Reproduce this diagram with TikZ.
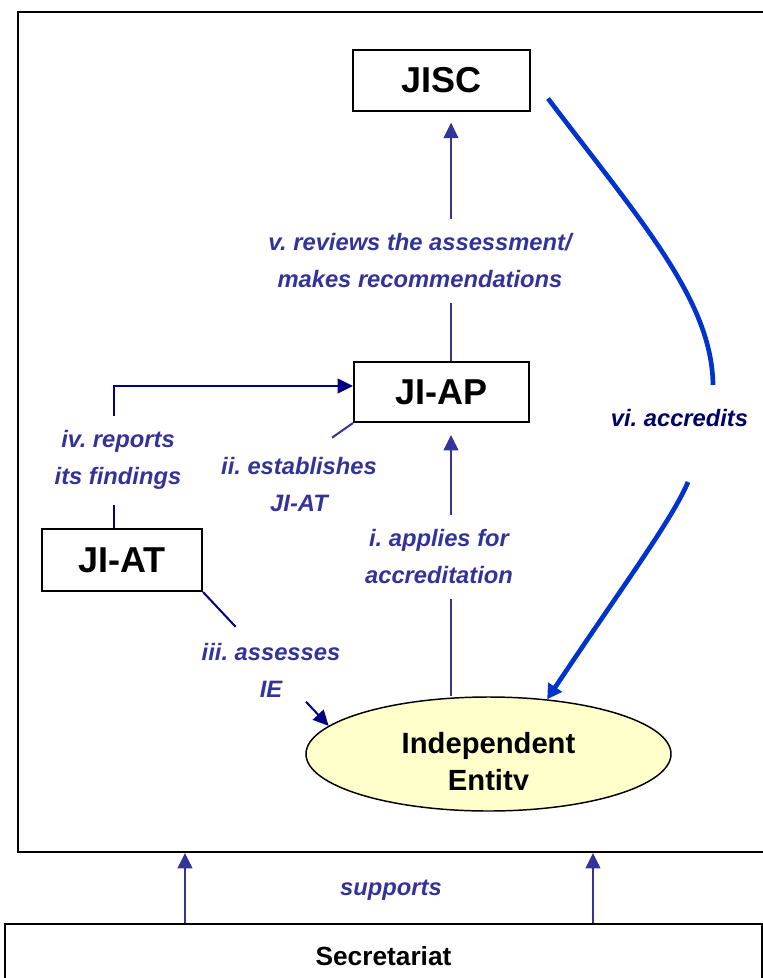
\documentclass[tikz,border=0pt]{standalone}
\usepackage{fontspec}
\setmainfont{Liberation Sans}
\usepackage{xcolor}
\usepackage{tikz}
\usetikzlibrary{shapes.geometric, arrows.meta, calc}

\definecolor{flowblue}{HTML}{333399}
\definecolor{flownavy}{HTML}{000080}
\definecolor{accblue}{HTML}{0033CC}
\definecolor{accnavy}{HTML}{000066}
\definecolor{ieyellow}{HTML}{FFFFCC}

\frenchspacing

\begin{document}
\begin{tikzpicture}[x=0.75pt, y=-0.75pt,
    box/.style={draw, line width=1.5pt, fill=white, inner sep=0pt, font=\fontsize{27}{30}\selectfont\bfseries},
    lbl/.style={text=flowblue, align=center, inner xsep=0pt, inner ysep=11pt, font=\fontsize{17.8}{27.75}\selectfont\bfseries\itshape},
    flow/.style={draw=flowblue, line width=1.5pt},
    navyflow/.style={draw=flownavy, line width=1.5pt},
    headed/.style={-{Triangle[width=11pt, length=11.5pt]}}]

    \useasboundingbox (0,0) rectangle (763,978);
    \clip (0,0) rectangle (763,978);

    % Outer frame and Secretariat
    \node[draw, line width=1.5pt, minimum width=567.75pt, minimum height=630pt, inner sep=0pt] (frame) at (396.5,432) {};
    \node[draw, line width=1.5pt, minimum width=567.75pt, minimum height=48pt, inner sep=0pt, font=\fontsize{19.7}{22}\selectfont\bfseries] (sec) at (383.5,956) {Secretariat};

    % Boxes
    \node[box, minimum width=132.75pt, minimum height=45.75pt] (jisc) at (441.5,80.5) {JISC};
    \node[box, minimum width=131.25pt, minimum height=45pt] (jiap) at (441.5,392) {JI-AP};
    \node[box, minimum width=120pt, minimum height=46.5pt] (jiat) at (122,560) {JI-AT};
    \node[ellipse, draw, line width=1.1pt, fill=ieyellow, minimum width=273.75pt, minimum height=85.5pt] (ie) at (488.5,754) {};
    \begin{scope}
        \clip (300,700) rectangle (700,789);
        \node[align=center, inner sep=0pt, font=\fontsize{21.9}{27.75}\selectfont\bfseries] (ietext) at (488.5,764) {Independent\\Entity};
    \end{scope}

    % Labels
    \node[lbl] (v) at (420,261) {v. reviews the assessment/\\makes recommendations};
    \node[lbl] (i) at (439,557) {i. applies for\\accreditation};
    \node[lbl] (iv) at (118,460) {iv. reports\\its findings};
    \node[lbl] (ii) at (299,485) {ii. establishes\\JI-AT};
    \node[lbl] (iii) at (271,670) {iii. assesses\\IE};
    \node[lbl, text=accnavy] (vi) at (679.5,418) {vi. accredits};
    \node[lbl] (sup) at (391,890) {supports};

    % i. and v.
    \coordinate (ax) at (451,0);
    \draw[flow] (ax |- ie.north) -- (ax |- i.south);
    \draw[flow, headed, shorten >=9pt] (ax |- i.north) -- (ax |- jiap.south);
    \draw[flow] (ax |- jiap.north) -- (ax |- v.south);
    \draw[flow, headed, shorten >=8pt] (ax |- v.north) -- (ax |- jisc.south);

    % ii. and iv.
    \draw[flow] (jiap.south west) -- ($(jiap.south west)!0.14!(jiat.north east)$);
    \coordinate (ivx) at (114,0);
    \draw[navyflow] (ivx |- jiat.north) -- (ivx |- iv.south);
    \draw[navyflow, headed] (ivx |- iv.north) |- ([yshift=4.5pt]jiap.west);

    % iii.
    \draw[navyflow] (jiat.south east) -- ($(jiat.south east)!0.26!(ie.170)$);
    \draw[navyflow, headed] ($(jiat.south east)!0.82!(ie.170)$) -- (ie.170);

    % vi.
    \coordinate (acctop) at (713,385);
    \coordinate (accbot) at (688,482);
    \draw[accblue, line width=3.5pt] ([shift={(17,18)}]jisc.east) .. controls (640,220) and (712,300) .. (acctop);
    \draw[accblue, line width=3.5pt, -{Triangle[width=12pt, length=11pt]}] (accbot) .. controls (672,520) and (620,590) .. (ie.43);

    % supports
    \coordinate (s1) at ([xshift=135.75pt]sec.north west);
    \coordinate (s2) at ([xshift=441.75pt]sec.north west);
    \draw[flow, headed] (s1) -- (s1 |- frame.south);
    \draw[flow, headed] (s2) -- (s2 |- frame.south);
\end{tikzpicture}
\end{document}
